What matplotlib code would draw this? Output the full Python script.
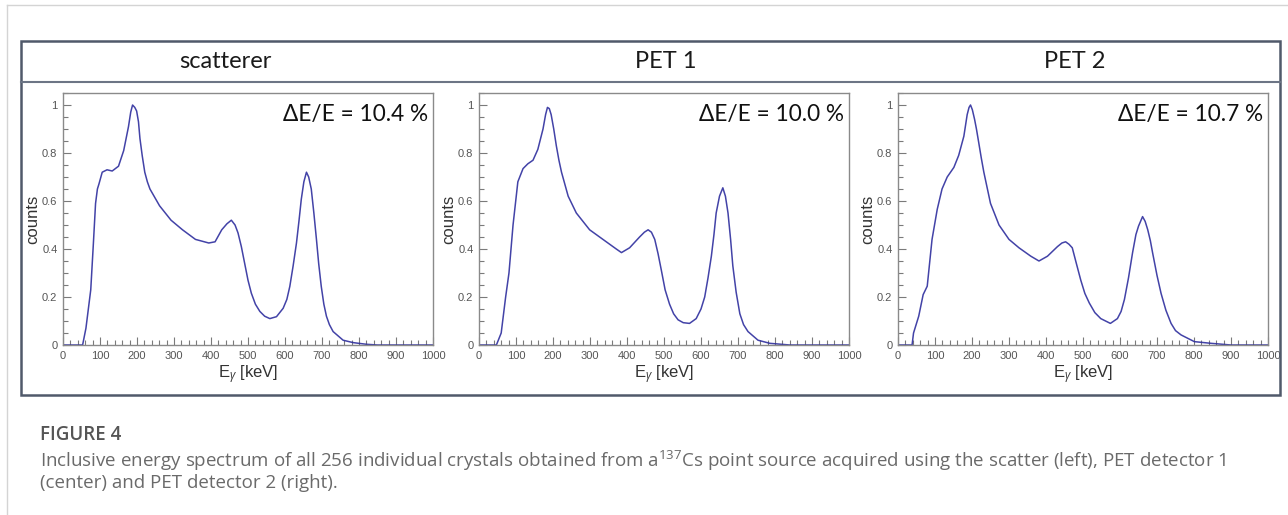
import matplotlib.pyplot as plt
from matplotlib.patches import Rectangle
from matplotlib.lines import Line2D
from matplotlib.ticker import MultipleLocator, FixedLocator, FixedFormatter

plt.rcParams['mathtext.fontset'] = 'custom'
plt.rcParams['mathtext.rm'] = 'Open Sans'
plt.rcParams['mathtext.it'] = 'Open Sans:italic'

W, H = 1288, 515

# 137Cs spectra, energy in keV, counts normalised to the Compton peak
scat_e = [0, 53, 62, 75, 82, 88, 93, 97, 106, 119, 133, 150, 164, 177, 183, 188,
          194, 199, 204, 208, 214, 221, 228, 235, 261, 292, 323, 358, 394, 411,
          429, 443, 455, 465, 473, 482, 491, 500, 509, 520, 532, 545, 559, 577,
          595, 605, 613, 622, 631, 638, 644, 651, 658, 664, 671, 678, 685, 691,
          698, 705, 712, 720, 730, 757, 784, 820, 850, 1000]
scat_counts = [0, 0, 0.07, 0.23, 0.42, 0.59, 0.65, 0.67, 0.72, 0.73, 0.725, 0.745,
               0.81, 0.91, 0.97, 1.0, 0.99, 0.975, 0.93, 0.86, 0.79, 0.72, 0.68,
               0.65, 0.58, 0.52, 0.48, 0.44, 0.425, 0.43, 0.48, 0.505, 0.52, 0.50,
               0.467, 0.41, 0.34, 0.27, 0.216, 0.17, 0.14, 0.12, 0.11, 0.118, 0.153,
               0.19, 0.244, 0.33, 0.425, 0.52, 0.607, 0.68, 0.72, 0.70, 0.65, 0.55,
               0.44, 0.34, 0.244, 0.17, 0.12, 0.085, 0.056, 0.02, 0.01, 0.003, 0.0,
               0.0]

pet1_e = [0, 47, 60, 72, 81, 92, 105, 119, 132, 146, 159, 173, 180, 185, 190, 195,
          202, 209, 216, 223, 241, 263, 299, 335, 371, 385, 407, 434, 447, 457,
          466, 475, 484, 493, 503, 515, 526, 538, 552, 569, 587, 600, 610, 619,
          628, 635, 641, 650, 659, 666, 673, 680, 686, 695, 705, 715, 727, 754,
          786, 840, 1000]
pet1_counts = [0, 0, 0.05, 0.2, 0.30, 0.5, 0.68, 0.735, 0.755, 0.77, 0.815, 0.9,
               0.96, 0.99, 0.985, 0.96, 0.9, 0.83, 0.77, 0.72, 0.62, 0.55, 0.48,
               0.44, 0.40, 0.385, 0.405, 0.45, 0.47, 0.48, 0.47, 0.44, 0.38, 0.31,
               0.23, 0.17, 0.13, 0.105, 0.093, 0.09, 0.11, 0.15, 0.2, 0.28, 0.37,
               0.46, 0.55, 0.62, 0.655, 0.62, 0.55, 0.44, 0.33, 0.22, 0.13, 0.085,
               0.056, 0.02, 0.007, 0.0, 0.0]

pet2_e = [0, 38, 42, 56, 68, 79, 92, 106, 119, 133, 151, 164, 178, 187, 192, 196,
          201, 207, 212, 218, 225, 232, 250, 273, 300, 327, 359, 381, 404, 431,
          443, 453, 462, 471, 482, 494, 505, 517, 532, 548, 574, 593, 603, 612,
          623, 634, 643, 650, 661, 668, 675, 682, 688, 700, 711, 724, 738, 750,
          765, 801, 846, 900, 1000]
pet2_counts = [0, 0, 0.05, 0.12, 0.21, 0.245, 0.44, 0.565, 0.65, 0.70, 0.74, 0.79,
               0.87, 0.96, 0.99, 1.0, 0.98, 0.94, 0.9, 0.845, 0.78, 0.72, 0.59,
               0.50, 0.44, 0.405, 0.37, 0.35, 0.37, 0.41, 0.425, 0.43, 0.42, 0.405,
               0.34, 0.27, 0.215, 0.175, 0.135, 0.11, 0.09, 0.11, 0.14, 0.19, 0.28,
               0.385, 0.46, 0.495, 0.535, 0.515, 0.48, 0.435, 0.385, 0.29, 0.215,
               0.145, 0.09, 0.06, 0.042, 0.014, 0.007, 0.0, 0.0]

panel_titles = ['scatterer', 'PET 1', 'PET 2']
resolutions = ['10.4', '10.0', '10.7']
x_ticks = [0, 100, 200, 300, 400, 500, 600, 700, 800, 900, 1000]
y_ticks = [0, 0.2, 0.4, 0.6, 0.8, 1.0]
y_tick_labels = ['0', '0.2', '0.4', '0.6', '0.8', '1']

caption_title = 'FIGURE 4'
caption_line1 = ('Inclusive energy spectrum of all 256 individual crystals obtained from '
                 'a$^{137}$Cs point source acquired using the scatter (left), PET detector 1')
caption_line2 = '(center) and PET detector 2 (right).'

spectra = [(scat_e, scat_counts), (pet1_e, pet1_counts), (pet2_e, pet2_counts)]
panel_left = [63, 479, 898]
header_x = [225, 666, 1075]


def fx(px):
    return px / W


def fy(py):
    return 1 - py / H


fig = plt.figure(figsize=(W / 100, H / 100), dpi=100)
fig.patch.set_facecolor('white')

# page frame (light grey) around the figure block
fig.add_artist(Line2D([fx(7), fx(1288)], [fy(5), fy(5)], color='#d4d4d4', lw=1.0))
fig.add_artist(Line2D([fx(7), fx(7)], [fy(5), fy(515)], color='#d4d4d4', lw=1.0))

# table with header row
fig.add_artist(Rectangle((fx(21), fy(395)), fx(1280) - fx(21), fy(41) - fy(395),
                         transform=fig.transFigure, fill=False, ec='#50596a', lw=1.8))
fig.add_artist(Line2D([fx(21), fx(1280)], [fy(82), fy(82)], color='#6c7585', lw=1.5))

for x, title in zip(header_x, panel_titles):
    fig.text(fx(x), fy(62), title, ha='center', va='center', fontsize=17,
             family=['Lato', 'DejaVu Sans'], color='#1a1a1a')

for left, (e, c), res in zip(panel_left, spectra, resolutions):
    ax = fig.add_axes([fx(left), fy(345), 370 / W, 252 / H])
    ax.plot(e, c, color='#2e2e9e', lw=1.1, alpha=0.9)
    ax.set_xlim(0, 1000)
    ax.set_ylim(0, 1.05)

    ax.xaxis.set_major_locator(FixedLocator(x_ticks))
    ax.xaxis.set_minor_locator(MultipleLocator(20))
    ax.yaxis.set_major_locator(FixedLocator(y_ticks))
    ax.yaxis.set_major_formatter(FixedFormatter(y_tick_labels))
    ax.yaxis.set_minor_locator(MultipleLocator(0.05))
    ax.tick_params(which='both', direction='in', top=False, right=False,
                   color='#7a7a7a', width=0.8, labelsize=8, labelcolor='#555555')
    ax.tick_params(which='major', length=6, pad=4)
    ax.tick_params(which='minor', length=3.5)
    for lab in ax.get_xticklabels() + ax.get_yticklabels():
        lab.set_family('Liberation Sans')
    for sp in ax.spines.values():
        sp.set_color('#8a8a8a')
        sp.set_linewidth(1.0)

    ax.set_ylabel('counts', fontsize=12, family='Liberation Sans', color='#333333',
                  labelpad=1)
    ax.set_xlabel(r'E$_{\gamma}$ [keV]', fontsize=12, family='Liberation Sans',
                  color='#333333', labelpad=2)
    ax.text(0.987, 0.955, f'\u0394E/E = {res} %', transform=ax.transAxes,
            ha='right', va='top', fontsize=16.3, family=['Lato', 'DejaVu Sans'],
            color='#111111')

fig.text(fx(40), fy(435), caption_title, ha='left', va='center', fontsize=13.5,
         family='Open Sans', weight='semibold', color='#555555')
fig.text(fx(40), fy(461), caption_line1, ha='left', va='center', fontsize=13.5,
         family='Open Sans', color='#6a6a6a')
fig.text(fx(40), fy(483), caption_line2, ha='left', va='center', fontsize=13.5,
         family='Open Sans', color='#6a6a6a')

fig.savefig('out.png', dpi=100, facecolor='white')
